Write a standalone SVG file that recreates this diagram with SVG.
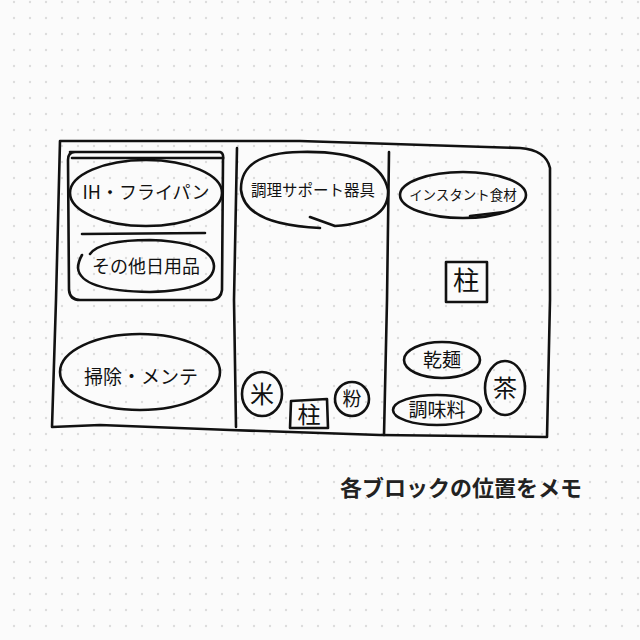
<svg xmlns="http://www.w3.org/2000/svg" width="640" height="640" viewBox="0 0 640 640">
<defs>
<pattern id="dots" x="6" y="-6" width="16" height="16" patternUnits="userSpaceOnUse">
<circle cx="8" cy="8" r="1.2" fill="#dddddd"/>
</pattern>
<style>
.ln{fill:none;stroke:#111;stroke-width:2.6;stroke-linecap:round;stroke-linejoin:round}
.hw{font-family:"Noto Sans CJK JP","Noto Sans",sans-serif;fill:#111;text-anchor:middle}
.cap{font-family:"Noto Sans CJK JP","Noto Sans",sans-serif;font-weight:bold;font-size:22px;fill:#222}
</style>
</defs>
<rect width="640" height="640" fill="#fbfbfb"/>
<rect width="640" height="640" fill="url(#dots)"/>

<g id="frame">
<path class="ln" d="M60,141 L300,141 L520,148 Q546,150 550,168 L550,300 L547,437 L380,435 L230,430 L100,425 L52,427 L56,300 L60,141"/>
<path class="ln" d="M237,148 L234,300 L236,427"/>
<path class="ln" d="M389,152 L387,300 L384,435"/>
</g>

<g id="kitchen-box">
<path class="ln" d="M70,152 L220,152 Q224,153 223,160 L222,290 Q221,299 212,300 L80,300 Q70,300 69,290 L68,160 Q68,152 75,152"/>
<path class="ln" d="M72,158 L223,158"/>
<path class="ln" d="M82,234 L205,233"/>
</g>

<g id="ih">
<ellipse class="ln" cx="146" cy="193" rx="76" ry="33"/>
<text class="hw" x="146" y="199" font-size="18">IH・フライパン</text>
</g>

<g id="sonota">
<path class="ln" d="M90,254 Q100,240 150,240 Q212,242 214,266 Q214,290 150,292 Q80,291 78,268 Q78,262 82,255"/>
<text class="hw" x="146" y="273" font-size="18">その他日用品</text>
</g>

<g id="souji">
<ellipse class="ln" cx="140" cy="372" rx="80" ry="38"/>
<text class="hw" x="141" y="384" font-size="19">掃除・メンテ</text>
</g>

<g id="chouri">
<path class="ln" d="M320,228 Q245,225 241,190 Q240,153 300,152 Q380,150 388,190 Q390,222 335,226 L310,217"/>
<text class="hw" x="313" y="196" font-size="15.5">調理サポート器具</text>
</g>

<g id="instant">
<ellipse class="ln" cx="463" cy="195" rx="63" ry="23"/>
<path class="ln" d="M470,216 L504,212"/>
<text class="hw" x="463" y="200" font-size="13.5">インスタント食材</text>
</g>

<g id="pillar-right">
<rect class="ln" x="446" y="262" width="41" height="40"/>
<text class="hw" x="466" y="290" font-size="26">柱</text>
</g>

<g id="kanmen">
<ellipse class="ln" cx="442" cy="360" rx="38" ry="18"/>
<text class="hw" x="442" y="367" font-size="19">乾麺</text>
</g>

<g id="cha">
<ellipse class="ln" cx="505" cy="388" rx="20" ry="27"/>
<text class="hw" x="505" y="397" font-size="24">茶</text>
</g>

<g id="choumiryou">
<ellipse class="ln" cx="437" cy="410" rx="44" ry="15"/>
<text class="hw" x="437" y="417" font-size="19">調味料</text>
</g>

<g id="kome">
<ellipse class="ln" cx="262" cy="394" rx="20" ry="22"/>
<text class="hw" x="262" y="403" font-size="24">米</text>
</g>

<g id="pillar-mid">
<path class="ln" d="M291,401 L327,399 L328,428 L290,428 Z"/>
<text class="hw" x="309" y="423" font-size="23">柱</text>
</g>

<g id="kona">
<ellipse class="ln" cx="352" cy="399" rx="17" ry="17"/>
<text class="hw" x="352" y="406" font-size="19">粉</text>
</g>

<g id="caption">
<text class="cap" x="340" y="496" textLength="242" lengthAdjust="spacingAndGlyphs">各ブロックの位置をメモ</text>
</g>
</svg>
